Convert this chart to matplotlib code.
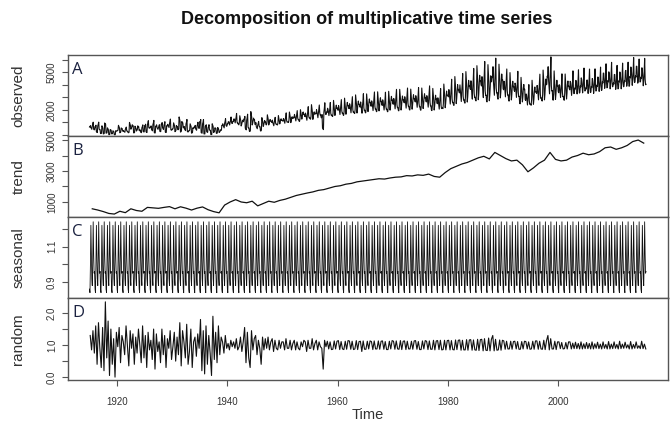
import numpy as np
import matplotlib.pyplot as plt

plt.rcParams['font.family'] = ['Liberation Sans', 'DejaVu Sans']

title = "Decomposition of multiplicative time series"
panel_names = ["observed", "trend", "seasonal", "random"]
panel_letters = ["A", "B", "C", "D"]

years = np.arange(1915, 2016)

# trend, one value per year
trend_yearly = [
    560, 480, 380, 260, 220,
    400, 310, 560, 450, 400, 650, 620, 590, 650, 700,
    560, 690, 600, 480, 600, 680, 500, 380, 300, 800,
    1000, 1150, 1000, 950, 1050, 750, 900, 1050, 980, 1100,
    1180, 1300, 1420, 1500, 1580, 1650, 1750, 1800, 1900, 2000,
    2050, 2150, 2200, 2300, 2350, 2400, 2450, 2500, 2480, 2550,
    2600, 2620, 2700, 2680, 2750, 2720, 2800, 2650, 2600, 2900,
    3150, 3300, 3450, 3550, 3700, 3850, 3950, 3780, 4200, 4000,
    3800, 3650, 3700, 3400, 2950, 3200, 3500, 3700, 4200, 3750,
    3650, 3700, 3900, 4000, 4150, 4050, 4100, 4250, 4500, 4550,
    4400, 4500, 4650, 4900, 5000, 4800,
]

# seasonal factors Jan..Dec (panel C)
seasonal_month = [0.86, 0.84, 1.00, 1.22, 1.05, 0.92,
                  0.88, 1.02, 1.24, 1.06, 0.95, 0.96]

# random component, four values per year (panel D)
random_quarterly = [
    [1.30, 0.85, 1.45, 0.75], [1.60, 0.40, 1.70, 0.90], [0.30, 1.55, 0.20, 2.35],
    [0.60, 1.75, 0.05, 1.50], [0.40, 1.20, 0.00, 1.40],
    [0.95, 1.55, 0.45, 1.30], [1.10, 0.70, 1.60, 0.95], [0.35, 1.45, 0.90, 1.35],
    [0.40, 1.25, 0.75, 1.50], [1.00, 0.45, 1.60, 0.60], [1.30, 0.30, 1.40, 0.85],
    [1.15, 0.55, 1.50, 0.25], [1.35, 0.80, 1.10, 0.45], [1.50, 0.70, 1.30, 0.30],
    [1.20, 0.90, 1.45, 0.55],
    [0.95, 1.40, 0.50, 1.25], [0.70, 1.70, 0.35, 1.45], [1.10, 0.60, 1.65, 0.40],
    [0.80, 1.50, 0.30, 1.10], [1.25, 0.65, 1.35, 0.90], [1.80, 0.20, 1.45, 0.10],
    [1.60, 0.40, 1.30, 0.75], [0.05, 1.90, 0.55, 1.40], [0.45, 1.60, 0.70, 1.25],
    [1.10, 0.75, 1.30, 0.90],
    [1.05, 0.85, 1.15, 0.95], [1.10, 0.90, 1.20, 0.85], [0.95, 1.25, 0.80, 1.10],
    [1.55, 0.45, 1.40, 0.60], [0.30, 1.45, 0.85, 1.20], [1.30, 0.70, 1.15, 0.90],
    [0.40, 1.25, 0.85, 1.20], [0.90, 1.25, 0.85, 1.10], [1.20, 0.80, 1.15, 0.90],
    [0.85, 1.15, 0.90, 1.10],
    [1.10, 0.85, 1.20, 0.90], [0.90, 1.15, 0.85, 1.05], [1.15, 0.85, 1.10, 0.90],
    [0.85, 1.10, 0.95, 1.15], [1.10, 0.80, 1.15, 0.90], [0.90, 1.20, 0.85, 1.05],
    [1.15, 0.85, 1.10, 0.95], [0.90, 0.25, 1.15, 0.95], [1.12, 0.88, 1.10, 0.86],
    [0.87, 1.13, 0.88, 1.12],
    [1.14, 0.86, 1.11, 0.88], [0.86, 1.12, 0.87, 1.14], [1.13, 0.87, 1.12, 0.86],
    [0.88, 1.14, 0.86, 1.11], [1.12, 0.80, 1.13, 0.87], [0.87, 1.12, 0.88, 1.13],
    [1.11, 0.86, 1.13, 0.88], [0.88, 1.13, 0.87, 1.12], [1.13, 0.87, 1.11, 0.86],
    [0.86, 1.12, 0.88, 1.14],
    [1.12, 0.87, 1.13, 0.88], [0.87, 1.14, 0.86, 1.12], [1.13, 0.86, 1.12, 0.88],
    [0.88, 1.12, 0.87, 1.13], [1.14, 0.87, 1.11, 0.86], [0.86, 1.13, 0.88, 1.14],
    [1.12, 0.86, 1.13, 0.87], [0.87, 1.15, 0.85, 1.13], [1.14, 0.86, 1.15, 0.85],
    [0.86, 1.15, 0.85, 1.14],
    [1.15, 0.85, 1.14, 0.86], [0.85, 1.16, 0.86, 1.15], [1.16, 0.84, 1.15, 0.85],
    [0.85, 1.17, 0.84, 1.16], [1.17, 0.84, 1.16, 0.85], [0.84, 1.18, 0.83, 1.17],
    [1.18, 0.82, 1.20, 0.84], [0.83, 1.22, 0.82, 1.18], [1.30, 0.82, 1.18, 0.84],
    [0.85, 1.16, 0.84, 1.15],
    [1.13, 0.87, 1.12, 0.88], [0.88, 1.12, 0.87, 1.11], [1.12, 0.88, 1.11, 0.87],
    [0.87, 1.11, 0.88, 1.12], [1.11, 0.88, 1.10, 0.87], [0.88, 1.12, 0.87, 1.13],
    [1.13, 0.87, 1.12, 0.88], [0.87, 1.15, 0.86, 1.14], [1.30, 0.85, 1.20, 0.88],
    [0.88, 1.12, 0.86, 1.10],
    [1.10, 0.89, 1.08, 0.88], [0.89, 1.08, 0.88, 1.10], [1.10, 0.88, 1.06, 0.89],
    [1.09, 0.89, 1.05, 0.88], [1.10, 0.88, 1.04, 0.89], [1.08, 0.89, 1.05, 0.88],
    [1.10, 0.88, 1.04, 0.90], [1.09, 0.89, 1.03, 0.88], [1.10, 0.90, 1.02, 0.88],
    [1.11, 0.88, 1.03, 0.89],
    [1.10, 0.90, 1.02, 0.88], [1.12, 0.89, 1.03, 0.90], [1.09, 0.91, 1.01, 0.88],
    [1.11, 0.88, 1.02, 0.90], [1.10, 0.90, 0.98, 0.89], [1.12, 0.89, 1.03, 0.88],
]

x_ticks = [1920, 1940, 1960, 1980, 2000]
y_ticks = [[0, 1000, 2000, 3000, 4000, 5000, 6000],
           [1000, 2000, 3000, 4000, 5000],
           [0.9, 1.0, 1.1, 1.2],
           [0.0, 0.5, 1.0, 1.5, 2.0]]
y_ticklabels = [["", "", "2000", "", "", "5000", ""],
                ["1000", "", "3000", "", "5000"],
                ["0.9", "", "1.1", ""],
                ["0.0", "", "1.0", "", "2.0"]]
y_limits = [(-100, 6400), (30, 5260), (0.81, 1.267), (-0.09, 2.47)]

# put the components together (multiplicative model)
trend = np.array(trend_yearly, dtype=float)
seas = np.array(seasonal_month)
rand = np.array(random_quarterly).ravel()
m = np.arange(len(years) * 12)
t_month = years[0] + m / 12
observed = trend[m // 12] * seas[m % 12] * rand[m // 3]
seasonal = seas[m % 12]
t_trend = years + 0.5
t_rand = years[0] + (np.arange(len(rand)) + 0.5) / 4

series = [(t_month, observed), (t_trend, trend), (t_month, seasonal), (t_rand, rand)]
widths = [0.8, 0.9, 0.6, 0.8]

fig = plt.figure(figsize=(6.72, 4.28), dpi=100)
W, H = 672, 428
left, right = 68, 668
tops = [55, 136, 217, 298]
bottoms = [136, 217, 298, 380]

for i in range(4):
    ax = fig.add_axes([left / W, 1 - bottoms[i] / H, (right - left) / W,
                       (bottoms[i] - tops[i]) / H])
    x, y = series[i]
    ax.plot(x, y, color="#111111", linewidth=widths[i])
    ax.set_xlim(1911.1, 2019.9)
    ax.set_ylim(*y_limits[i])
    ax.set_yticks(y_ticks[i])
    ax.set_yticklabels(y_ticklabels[i], rotation=90, va="center",
                       fontsize=7, color="#333333")
    ax.tick_params(axis="y", length=4, width=0.8, color="#555555", pad=4)
    for s in ax.spines.values():
        s.set_color("#555555")
        s.set_linewidth(1.0)
    ax.set_ylabel(panel_names[i], fontsize=11, color="#333333")
    ax.yaxis.set_label_coords(-0.071, 0.5)
    ax.text(0.007, 0.91, panel_letters[i], transform=ax.transAxes,
            fontsize=12, family="Open Sans", color="#1b2240",
            ha="left", va="top")
    if i < 3:
        ax.set_xticks([])
    else:
        ax.set_xticks(x_ticks)
        ax.set_xticklabels([str(v) for v in x_ticks], fontsize=7, color="#333333")
        ax.tick_params(axis="x", length=4, width=0.8, color="#555555", pad=8)
        ax.set_xlabel("Time", fontsize=10.5, color="#333333")
        ax.xaxis.set_label_coords(0.5, -0.34)

fig.text(0.545, 1 - 20 / H, title, fontsize=13, fontweight="bold",
         ha="center", va="center", color="#111111")

fig.savefig("out.png", dpi=100)
